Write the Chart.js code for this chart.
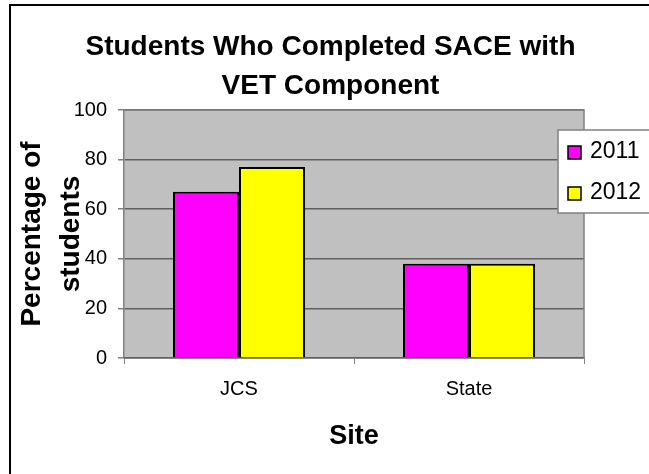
<!DOCTYPE html>
<html>
<head>
<meta charset="utf-8">
<script src="https://cdn.jsdelivr.net/npm/chart.js@4"></script>
<style>
  body { margin: 0; background: #fff; }
  canvas { display: block; }
</style>
</head>
<body>
<canvas id="myChart" width="649" height="474"></canvas>
<script>
// donnees
const sites = ['JCS', 'State'];
const years = ['2011', '2012'];
const values2011 = [67, 38];
const values2012 = [77, 38];
const yTicks = [0, 20, 40, 60, 80, 100];

const barColors = ['#FF00FF', '#FFFF00'];

// fond gris de la zone du graphique + cadre exterieur
const plotBackground = {
  id: 'plotBackground',
  beforeDraw(chart) {
    const ctx = chart.ctx;
    const a = chart.chartArea;
    ctx.save();
    ctx.fillStyle = '#fff';
    ctx.fillRect(0, 0, chart.width, chart.height);
    ctx.strokeStyle = '#000';
    ctx.lineWidth = 2;
    ctx.strokeRect(10, 5, chart.width + 20, chart.height + 20);
    ctx.fillStyle = '#C0C0C0';
    ctx.fillRect(a.left, a.top, a.right - a.left, a.bottom - a.top);
    ctx.restore();
  },
  afterDatasetsDraw(chart) {
    const ctx = chart.ctx;
    const a = chart.chartArea;
    ctx.save();
    ctx.strokeStyle = '#808080';
    ctx.lineWidth = 1.5;
    ctx.beginPath();
    ctx.moveTo(a.left, a.top);
    ctx.lineTo(a.right, a.top);
    ctx.lineTo(a.right, a.bottom);
    ctx.stroke();
    ctx.restore();
  }
};

// legende par dessus la zone du graphique, comme dans Excel
const boxLegend = {
  id: 'boxLegend',
  afterDraw(chart) {
    const ctx = chart.ctx;
    const x = 558, y = 130, w = 100, h = 83;
    ctx.save();
    ctx.fillStyle = '#fff';
    ctx.fillRect(x, y, w, h);
    ctx.strokeStyle = '#808080';
    ctx.lineWidth = 1.5;
    ctx.strokeRect(x, y, w, h);
    ctx.font = '23px "Liberation Sans", Arial, sans-serif';
    ctx.textBaseline = 'middle';
    chart.data.datasets.forEach((ds, i) => {
      const cy = y + 22 + i * 41;
      ctx.fillStyle = ds.backgroundColor;
      ctx.fillRect(568, cy - 6, 13, 13);
      ctx.strokeStyle = '#000';
      ctx.lineWidth = 1.5;
      ctx.strokeRect(568, cy - 6, 13, 13);
      ctx.fillStyle = '#000';
      ctx.fillText(ds.label, 590, cy);
    });
    ctx.restore();
  }
};

const ctx = document.getElementById('myChart');
new Chart(ctx, {
  type: 'bar',
  data: {
    labels: sites,
    datasets: [
      { label: years[0], data: values2011, backgroundColor: barColors[0], borderColor: '#000', borderWidth: 2 },
      { label: years[1], data: values2012, backgroundColor: barColors[1], borderColor: '#000', borderWidth: 2 }
    ]
  },
  options: {
    responsive: false,
    animation: false,
    categoryPercentage: 0.574,
    barPercentage: 1,
    layout: { padding: { left: 12, top: 8, right: 0, bottom: 0 } },
    plugins: {
      legend: { display: false },
      tooltip: { enabled: false },
      title: {
        display: true,
        text: ['Students Who Completed SACE with', 'VET Component'],
        color: '#000',
        font: { family: '"Liberation Sans", Arial, sans-serif', size: 28, weight: 'bold', lineHeight: '39px' },
        padding: { top: 19.5, bottom: 4.5 }
      }
    },
    scales: {
      x: {
        afterFit(scale) { scale.height = 116; },
        grid: { offset: true, drawOnChartArea: false, drawTicks: true, tickLength: 6, color: '#808080' },
        border: { color: '#606060', width: 1.5 },
        ticks: { color: '#000', padding: 13, font: { family: '"Liberation Sans", Arial, sans-serif', size: 20 } },
        title: {
          display: true,
          text: 'Site',
          color: '#000',
          font: { family: '"Liberation Sans", Arial, sans-serif', size: 27, weight: 'bold' },
          padding: { top: 0, bottom: 21 }
        }
      },
      y: {
        min: 0,
        max: 100,
        afterFit(scale) { scale.width = 112; },
        afterBuildTicks(scale) { scale.ticks = yTicks.map(v => ({ value: v })); },
        grid: { color: '#606060', lineWidth: 1.5, tickLength: 6, tickColor: '#808080' },
        border: { color: '#808080', width: 1.5 },
        ticks: { color: '#000', padding: 11, font: { family: '"Liberation Sans", Arial, sans-serif', size: 20 } },
        title: {
          display: true,
          text: ['Percentage of', 'students'],
          color: '#000',
          font: { family: '"Liberation Sans", Arial, sans-serif', size: 28, weight: 'bold', lineHeight: '39px' },
          padding: { top: 1, bottom: 0 }
        }
      },
      // axe vide a droite : garde la place de la legende
      yRight: {
        position: 'right',
        min: 0,
        max: 100,
        afterFit(scale) { scale.width = 65; },
        grid: { display: false },
        border: { display: false },
        ticks: { display: false }
      }
    }
  },
  plugins: [plotBackground, boxLegend]
});
</script>
</body>
</html>
